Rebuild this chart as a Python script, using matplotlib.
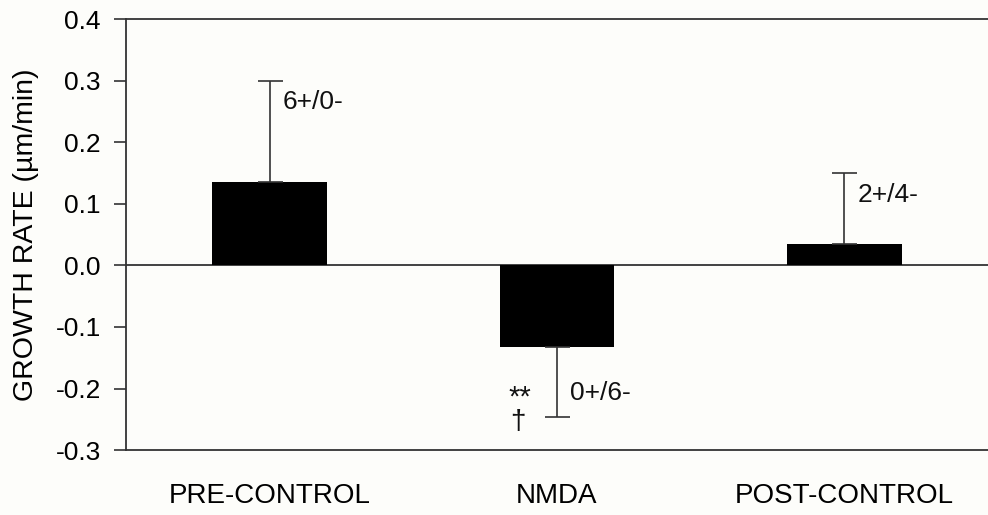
import matplotlib
matplotlib.use("Agg")
import matplotlib.pyplot as plt

plt.rcParams["font.family"] = ["Liberation Sans", "DejaVu Sans"]

condiciones = ["PRE-CONTROL", "NMDA", "POST-CONTROL"]
tasa = [0.135, -0.132, 0.034]
error = [0.165, 0.115, 0.116]
conteos = ["6+/0-", "0+/6-", "2+/4-"]

fig = plt.figure(figsize=(9.88, 5.15), dpi=100, facecolor="#fdfdfa")
ax = fig.add_axes([0.1275, 0.126, 0.8725, 0.837])
ax.set_facecolor("#fdfdfa")

x = list(range(len(condiciones)))
ax.bar(x, tasa, width=0.4, color="black", zorder=2)

# barras de error solo del lado que se aleja del cero
for i, (v, e) in enumerate(zip(tasa, error)):
    lower = [e] if v < 0 else [0]
    upper = [e] if v >= 0 else [0]
    ax.errorbar(i, v, yerr=[lower, upper], fmt="none", ecolor="#333333",
                elinewidth=1.2, capsize=9, capthick=1.2, zorder=3)
    extremo = v + e if v >= 0 else v - e
    ypos = extremo - 0.035 if v >= 0 else extremo + 0.04
    ax.text(i + 0.045, ypos, conteos[i], fontsize=19,
            va="center", ha="left", color="#111111")

ax.text(1 - 0.13, -0.215, "**", fontsize=21, ha="center", va="center", color="#111111")
ax.text(1 - 0.135, -0.255, "\u2020", fontsize=20, ha="center", va="center", color="#111111")

ax.axhline(0, color="#333333", linewidth=1.3, zorder=1)

ax.set_xlim(-0.5, 2.5)
ax.set_ylim(-0.3, 0.4)
ax.set_yticks([-0.3, -0.2, -0.1, 0.0, 0.1, 0.2, 0.3, 0.4])
ax.set_yticklabels(["-0.3", "-0.2", "-0.1", "0.0", "0.1", "0.2", "0.3", "0.4"])
ax.set_xticks(x)
ax.set_xticklabels(condiciones)
ax.tick_params(axis="y", direction="out", length=9, width=1.2, color="#333333",
               labelsize=19, pad=9)
ax.tick_params(axis="x", length=0, labelsize=20, pad=24)
ax.set_ylabel("GROWTH RATE (\u00b5m/min)", fontsize=20.5, labelpad=12)

ax.spines["right"].set_visible(False)
for lado in ["left", "top", "bottom"]:
    ax.spines[lado].set_color("#333333")
    ax.spines[lado].set_linewidth(1.3)

fig.savefig("out.png", dpi=100, facecolor=fig.get_facecolor())
